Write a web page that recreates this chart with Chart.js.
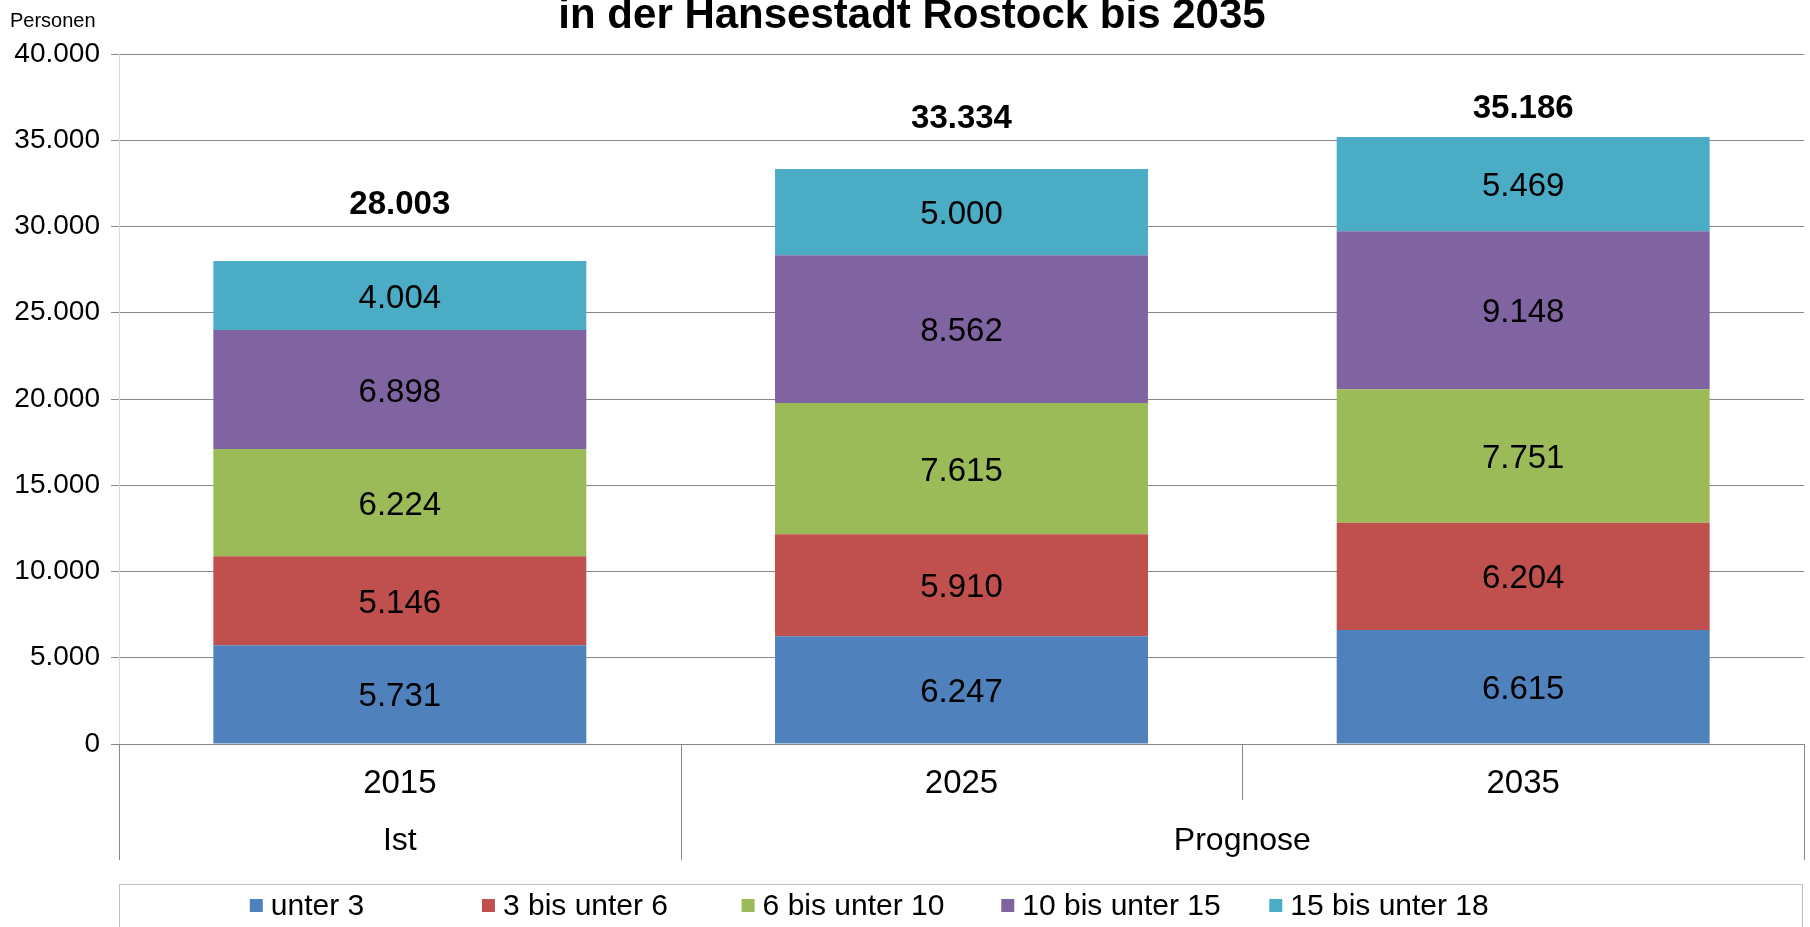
<!DOCTYPE html>
<html>
<head>
<meta charset="utf-8">
<script src="https://cdn.jsdelivr.net/npm/chart.js@4.4.1/dist/chart.umd.min.js"></script>
<style>
  html, body { margin: 0; padding: 0; background: #fff; }
  #wrap { width: 1810px; height: 927px; }
</style>
</head>
<body>
<div id="wrap"><canvas id="chart" width="1810" height="927"></canvas></div>
<script>
const YEARS = ['2015', '2025', '2035'];
const GROUP_LABELS = ['Ist', 'Prognose'];
const GROUP_OF_YEAR = [0, 1, 1];
const AGE_GROUPS = ['unter 3', '3 bis unter 6', '6 bis unter 10', '10 bis unter 15', '15 bis unter 18'];
const UNDER_3 = [5731, 6247, 6615];
const FROM_3_TO_6 = [5146, 5910, 6204];
const FROM_6_TO_10 = [6224, 7615, 7751];
const FROM_10_TO_15 = [6898, 8562, 9148];
const FROM_15_TO_18 = [4004, 5000, 5469];
const TOTALS = [28003, 33334, 35186];
const TITLE = 'in der Hansestadt Rostock bis 2035';
const Y_UNIT = 'Personen';

const COLORS = ['#4F81BD', '#C0504D', '#9BBB59', '#8064A2', '#4BACC6'];
const FONT = "'Liberation Sans', Arial, sans-serif";
const GRID = '#878787';
// Summen stehen im Original unterschiedlich hoch ueber den Saeulen
const TOTAL_LIFT = [56, 50, 28];

const fmt = n => String(n).replace(/\B(?=(\d{3})+(?!\d))/g, '.');

const series = [UNDER_3, FROM_3_TO_6, FROM_6_TO_10, FROM_10_TO_15, FROM_15_TO_18];

const barLabels = {
  id: 'barLabels',
  afterDatasetsDraw(chart) {
    const ctx = chart.ctx;
    ctx.save();
    ctx.fillStyle = '#000';
    ctx.textAlign = 'center';
    ctx.textBaseline = 'middle';
    ctx.font = `33px ${FONT}`;
    chart.data.datasets.forEach((ds, i) => {
      chart.getDatasetMeta(i).data.forEach((el, j) => {
        ctx.fillText(fmt(ds.data[j]), el.x, (el.y + el.base) / 2 + 3);
      });
    });
    const top = chart.getDatasetMeta(chart.data.datasets.length - 1).data;
    ctx.font = `bold 33px ${FONT}`;
    top.forEach((el, j) => {
      ctx.fillText(fmt(TOTALS[j]), el.x, el.y - TOTAL_LIFT[j]);
    });
    ctx.restore();
  },
};

const decor = {
  id: 'decor',
  afterDraw(chart) {
    const ctx = chart.ctx;
    const area = chart.chartArea;
    const n = YEARS.length;
    const w = (area.right - area.left) / n;
    ctx.save();

    // Trennlinien der Kategorieachse
    ctx.strokeStyle = GRID;
    ctx.lineWidth = 1;
    for (let i = 0; i <= n; i++) {
      const edge = i === 0 || i === n || GROUP_OF_YEAR[i] !== GROUP_OF_YEAR[i - 1];
      const px = Math.round(area.left + i * w) + 0.5;
      ctx.beginPath();
      ctx.moveTo(px, area.bottom);
      ctx.lineTo(px, area.bottom + (edge ? 116 : 56));
      ctx.stroke();
    }

    // Gruppenbeschriftung (Ist / Prognose)
    ctx.fillStyle = '#000';
    ctx.font = `32px ${FONT}`;
    ctx.textAlign = 'center';
    ctx.textBaseline = 'middle';
    GROUP_LABELS.forEach((label, g) => {
      const idx = GROUP_OF_YEAR.map((v, i) => v === g ? i : -1).filter(i => i >= 0);
      const from = area.left + idx[0] * w;
      const to = area.left + (idx[idx.length - 1] + 1) * w;
      ctx.fillText(label, (from + to) / 2, area.bottom + 97);
    });

    // Titel (oben angeschnitten wie im Original)
    ctx.font = `bold 42px ${FONT}`;
    ctx.textBaseline = 'alphabetic';
    ctx.fillText(TITLE, chart.width / 2 + 7, 28);

    ctx.textAlign = 'left';
    ctx.font = `20px ${FONT}`;
    ctx.fillText(Y_UNIT, 10, 27);

    // Legende: Eintraege in gleich breiten Spalten zentriert
    const ly = area.bottom + 140;
    ctx.strokeStyle = '#bfbfbf';
    ctx.strokeRect(area.left + 0.5, ly + 0.5, area.right - area.left - 2, 80);
    ctx.font = `30px ${FONT}`;
    ctx.textBaseline = 'middle';
    AGE_GROUPS.forEach((label, i) => {
      const itemW = 13 + 8 + ctx.measureText(label).width;
      const lx = area.left + 188 + i * 268 - itemW / 2;
      ctx.fillStyle = COLORS[i];
      ctx.fillRect(lx, ly + 15, 13, 13);
      ctx.fillStyle = '#000';
      ctx.fillText(label, lx + 21, ly + 23);
    });
    ctx.restore();
  },
};

new Chart(document.getElementById('chart'), {
  type: 'bar',
  data: {
    labels: YEARS,
    datasets: AGE_GROUPS.map((label, i) => ({
      label,
      data: series[i],
      backgroundColor: COLORS[i],
      borderWidth: 0,
      categoryPercentage: 1,
      barPercentage: 0.664,
    })),
  },
  options: {
    responsive: false,
    animation: false,
    layout: { padding: { top: 54, right: 6, bottom: 67, left: 0 } },
    plugins: {
      legend: { display: false },
      title: { display: false },
      tooltip: { enabled: false },
    },
    scales: {
      x: {
        stacked: true,
        grid: { display: false, drawTicks: false },
        border: { display: false },
        ticks: { color: '#000', font: { family: FONT, size: 33 }, padding: 20 },
        afterFit: s => { s.height = 116; },
      },
      y: {
        stacked: true,
        min: 0,
        max: 40000,
        ticks: {
          stepSize: 5000,
          color: '#000',
          font: { family: FONT, size: 28 },
          padding: 11,
          callback: v => fmt(v),
        },
        grid: { color: GRID, tickColor: GRID, tickLength: 8 },
        border: { color: '#d9d9d9' },
        afterFit: s => { s.width = 119; },
      },
    },
  },
  plugins: [barLabels, decor],
});
</script>
</body>
</html>
